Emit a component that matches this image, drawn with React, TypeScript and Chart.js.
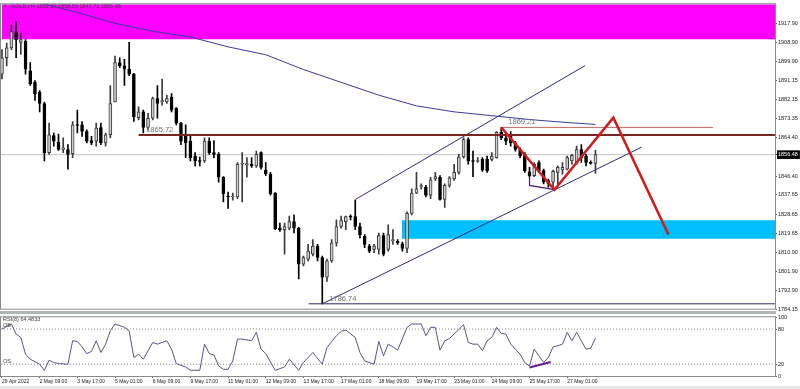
import React, { useEffect, useRef } from 'react';
import { Chart, registerables } from 'chart.js';
Chart.register(...registerables);

const FONT = "'Liberation Sans', Arial, sans-serif";

// ---- data ----
const headerText = 'GOLD,H4 1852.37 1858.56 1847.72 1856.48';
const lastPrice = 1856.48;
const priceTicks = [1917.9, 1908.9, 1899.9, 1891.15, 1882.15, 1873.35, 1864.4, 1856.48, 1846.4, 1837.65, 1828.65, 1819.65, 1810.9, 1801.9, 1792.9, 1784.15];
const rsiTicks = [100, 80, 20, 0];
const xTickIdx = [0, 8, 16, 24, 32, 40, 48, 56, 64, 72, 80, 88, 96, 104, 112, 120];
const xTickLabels = ['29 Apr 2022', '2 May 09:00', '3 May 17:00', '5 May 01:00', '6 May 09:00', '9 May 17:00', '11 May 01:00', '12 May 09:00', '13 May 17:00', '17 May 01:00', '18 May 09:00', '19 May 17:00', '23 May 01:00', '24 May 09:00', '25 May 17:00', '27 May 01:00'];

const opens = [1894.15,1901.8,1906.4,1914.07,1909.0,1909.47,1895.7,1890.3,1885.7,1880.4,1857.4,1865.35,1862.4,1858.9,1858.9,1856.9,1870.4,1870.4,1867.3,1863.1,1862.8,1869.2,1862.0,1865.8,1881.1,1899.5,1898.0,1896.45,1894.15,1873.8,1876.5,1869.2,1873.5,1882.7,1881.1,1881.1,1883.4,1878.1,1871.2,1865.0,1862.8,1855.85,1853.6,1853.6,1862.8,1857.4,1856.6,1845.9,1837.0,1836.7,1836.7,1852.0,1851.7,1852.0,1851.25,1857.4,1849.3,1847.45,1838.5,1822.15,1821.4,1822.15,1825.2,1822.15,1805.3,1807.6,1809.9,1813.7,1808.4,1799.2,1806.8,1815.25,1822.9,1825.2,1827.5,1827.5,1822.9,1818.3,1813.7,1812.2,1812.2,1818.6,1812.2,1816.3,1816.0,1814.8,1812.6,1829.0,1838.5,1841.6,1841.3,1837.5,1845.1,1845.9,1835.5,1842.1,1845.1,1848.2,1855.4,1863.5,1853.6,1853.3,1854.3,1854.3,1854.3,1855.1,1866.9,1864.3,1865.0,1862.0,1858.9,1856.6,1848.5,1846.7,1852.8,1849.0,1844.4,1843.6,1848.2,1849.4,1849.7,1853.6,1852.8,1858.9,1855.85,1852.6,1852.37];
const highs = [1905.6,1908.7,1917.13,1918.66,1913.3,1910.24,1899.5,1891.1,1886.5,1881.1,1871.2,1866.6,1866.1,1864.3,1861.2,1872.0,1877.3,1872.0,1868.1,1865.0,1871.2,1871.2,1866.6,1888.8,1902.6,1901.8,1901.05,1909.0,1894.5,1878.8,1877.3,1875.8,1883.4,1888.8,1891.85,1884.2,1885.0,1878.5,1871.6,1870.4,1865.0,1857.4,1855.4,1864.3,1864.3,1863.1,1857.4,1846.2,1839.0,1838.5,1852.8,1857.4,1855.1,1855.1,1858.15,1857.8,1852.8,1848.2,1838.8,1824.45,1824.45,1827.8,1828.3,1822.5,1809.1,1814.5,1816.8,1814.5,1809.1,1807.6,1816.8,1826.0,1827.8,1827.8,1828.3,1835.2,1824.45,1819.1,1814.5,1814.5,1819.85,1819.85,1823.7,1821.4,1816.8,1815.6,1829.8,1840.5,1848.2,1842.8,1842.1,1845.9,1848.2,1846.7,1842.8,1846.2,1852.0,1856.6,1864.3,1864.3,1858.15,1855.1,1855.1,1855.85,1857.4,1867.3,1869.21,1866.6,1867.3,1862.75,1859.7,1857.4,1850.5,1852.8,1853.6,1849.7,1845.1,1849.3,1851.25,1852.8,1855.85,1856.6,1860.45,1861.2,1856.6,1853.6,1858.56];
const lows = [1891.85,1898.0,1905.6,1901.8,1903.34,1894.15,1888.8,1881.9,1876.5,1853.6,1856.6,1860.45,1858.5,1857.4,1849.7,1855.1,1866.6,1865.0,1862.0,1861.2,1860.45,1861.2,1860.45,1864.3,1881.1,1897.2,1888.8,1893.4,1872.0,1872.7,1866.6,1868.1,1872.7,1873.5,1879.6,1880.4,1876.5,1870.4,1861.2,1855.1,1853.6,1851.25,1851.25,1852.8,1856.6,1855.1,1843.6,1834.4,1831.4,1835.2,1835.9,1834.4,1845.9,1850.5,1850.5,1849.7,1846.7,1837.5,1821.4,1820.6,1809.9,1821.4,1819.85,1798.4,1804.5,1806.8,1809.1,1806.8,1786.74,1797.2,1806.1,1813.7,1822.15,1821.4,1826.0,1821.4,1817.6,1813.0,1810.65,1810.65,1809.9,1809.1,1811.4,1814.5,1814.5,1811.4,1810.65,1828.3,1838.2,1840.5,1836.7,1835.9,1844.4,1835.2,1831.8,1841.3,1844.4,1847.4,1854.8,1852.0,1846.2,1852.8,1848.65,1848.2,1853.6,1854.8,1863.5,1861.2,1860.45,1858.15,1855.1,1848.2,1846.0,1846.2,1848.2,1842.8,1841.3,1840.5,1842.8,1847.4,1849.3,1852.0,1852.0,1852.8,1851.25,1852.0,1847.72];
const closes = [1901.8,1906.4,1914.07,1910.24,1910.24,1896.45,1889.6,1885.0,1880.4,1857.4,1865.8,1862.8,1858.9,1859.7,1856.6,1870.4,1870.1,1867.3,1862.8,1862.0,1868.9,1862.0,1865.8,1880.4,1899.5,1898.0,1896.45,1894.15,1874.3,1876.5,1869.2,1873.5,1882.7,1880.4,1881.8,1882.7,1877.3,1871.2,1862.8,1862.0,1855.1,1853.6,1853.3,1862.8,1857.4,1856.6,1845.9,1838.2,1836.7,1837.0,1852.0,1852.3,1852.3,1851.25,1856.6,1850.5,1847.45,1838.2,1821.7,1821.4,1822.9,1825.2,1822.15,1805.3,1808.4,1811.4,1813.7,1808.4,1799.2,1806.8,1815.25,1822.9,1825.7,1827.5,1827.2,1822.9,1819.1,1814.5,1811.4,1813.7,1818.6,1809.9,1819.1,1816.5,1815.2,1812.6,1829.0,1838.5,1840.5,1841.8,1837.5,1844.7,1846.2,1835.5,1842.1,1845.6,1848.2,1855.4,1863.5,1853.6,1853.3,1853.6,1849.3,1849.0,1855.85,1866.9,1864.3,1862.75,1862.0,1858.9,1855.85,1849.0,1846.7,1852.0,1849.0,1843.6,1842.8,1848.65,1850.5,1850.5,1855.1,1856.2,1858.9,1855.1,1852.8,1852.37,1856.48];

const maIdx = [8, 16, 24, 32, 40, 48, 56, 64, 72, 80, 88, 96, 104, 112, 120, 126];
const maVal = [1927.5, 1922.95, 1917.9, 1914.2, 1911.5, 1906.9, 1903.2, 1896.3, 1890.3, 1884.3, 1879.3, 1876.5, 1874.7, 1872.9, 1871.5, 1870.6];

const rsiIdx = [0,2,3,4,5,6,8,9,10,11,12,14,15,16,17,18,19,20,21,22,23,24,26,27,28,29,30,31,32,33,35,36,37,39,40,42,43,44,45,46,47,48,49,50,51,53,54,55,56,58,60,61,63,64,66,68,69,71,72,73,75,76,77,79,80,81,82,83,84,86,87,89,90,91,92,93,94,95,96,98,99,100,101,102,103,104,105,106,107,108,109,110,111,112,113,114,115,116,117,118,119,120,121,122,123,124,125,126];
const rsiVal = [80,88.6,71.4,65.7,37.1,28.6,20,9.7,26.9,22.9,21.1,20,60,58.9,49.7,38.3,41.7,60,40,54.3,77.1,88.6,82.9,77.1,31.4,37.1,28.6,42.9,57.1,54.3,60,45.7,21.1,15.4,9.7,9.7,54.3,38.3,36,17.1,11.4,11.4,25.7,62.9,62.9,60,74.3,45.7,38.3,9.7,15.4,28.6,9.7,22.9,40,20,48.6,68.6,76,78.3,65.7,40,25.7,20,58.9,34.3,54.3,49.7,44,82.9,88.6,88.6,68.6,82.9,82.9,44,60,64,71.4,87.4,57.1,54.3,54.3,42.9,60,65.7,82.9,72.6,71.4,54.3,45.7,37.1,22.9,17.1,45.7,34.3,22.9,31.4,49.7,51.4,54.3,74.3,60,74.3,60,45.7,47.4,64.48];
const rsiLabel = 'RSI(8) 64.4833';

// zones (bar index range, price range)
const supplyZoneX = [0, 170];
const supplyZoneY = [1930, 1910.5];
const demandZoneX = [84.9, 170];
const demandZoneY = [1825.8, 1817.2];

// levels
const levelHighIdx = [29, 170];
const levelHigh = 1865.72;
const levelTopIdx = [106, 151];
const levelTop = 1869.21;
const levelLowIdx = [65.1, 170];
const levelLow = 1786.74;
const levelLabels = ['1865.72', '1869.21', '1786.74'];
const levelLabelIdx = [30.6, 107.5, 69.5];
const levelLabelPrice = [1865.72, 1869.21, 1786.74];

// channel
const chanUpperIdx = [75, 123.8];
const chanUpperVal = [1835.5, 1898.1];
const chanLowerIdx = [68, 135.8];
const chanLowerVal = [1786.74, 1860.0];

// projected zigzag
const zigIdx = [106, 117.3, 129.8, 141.5];
const zigVal = [1869.21, 1840.1, 1873.8, 1819.1];

// divergence lines
const divPriceIdx = [112, 112, 117.3];
const divPriceVal = [1846.0, 1842.1, 1840.1];
const divRsiIdx = [112, 116.5];
const divRsiVal = [14.5, 24];

// view window
const X_MIN = -0.21;
const X_MAX = 164.12;
const Y_MIN = 1784.45;
const Y_MAX = 1926.79;

const pts = (xs: number[], ys: number[]) => xs.map((x, i) => ({ x, y: ys[i] }));
const lineDs = (data: any[], color: string, width: number, order = 1, extra: any = {}) => ({
  type: 'line', data, borderColor: color, borderWidth: width, pointRadius: 0, fill: false, tension: 0, order, ...extra,
});

const framePlugin = {
  id: 'frame',
  afterDraw(chart: any) {
    const { ctx, chartArea: a } = chart;
    ctx.save();
    ctx.strokeStyle = '#8a8a8a';
    ctx.lineWidth = 1;
    ctx.strokeRect(a.left - 0.5, a.top - 0.5, a.right - a.left + 1, a.bottom - a.top + 1);
    ctx.restore();
  },
};

const mainTextPlugin = {
  id: 'mainText',
  afterDatasetsDraw(chart: any) {
    const { ctx, scales } = chart;
    ctx.save();
    ctx.fillStyle = '#404040';
    ctx.font = `4px ${FONT}`;
    ctx.textBaseline = 'middle';
    ctx.fillText('▼', 3, 6);
    ctx.font = `5.5px ${FONT}`;
    ctx.fillText(headerText, 11, 6);
    ctx.fillStyle = '#707070';
    ctx.font = `7.5px ${FONT}`;
    ctx.textBaseline = 'alphabetic';
    levelLabels.forEach((t, i) => {
      const x = scales.x.getPixelForValue(levelLabelIdx[i]);
      const y = scales.y.getPixelForValue(levelLabelPrice[i]) - 3;
      ctx.fillText(t, x, y);
    });
    ctx.restore();
  },
};

const rsiTextPlugin = {
  id: 'rsiText',
  afterDatasetsDraw(chart: any) {
    const { ctx, scales } = chart;
    ctx.save();
    ctx.fillStyle = '#404040';
    ctx.font = `5.5px ${FONT}`;
    ctx.textBaseline = 'middle';
    ctx.fillText(rsiLabel, 3, 6.5);
    ctx.textBaseline = 'alphabetic';
    ctx.fillText('OB', 3, scales.y.getPixelForValue(80) - 2);
    ctx.fillText('OS', 3, scales.y.getPixelForValue(20) - 1);
    ctx.restore();
  },
};

function mainConfig(): any {
  const isBull = (i: number) => closes[i] >= opens[i];
  const wicks = {
    type: 'bar',
    data: lows.map((l, i) => ({ x: i, y: [l, highs[i]] })),
    backgroundColor: opens.map((_, i) => (isBull(i) ? '#3a3a3a' : '#000000')),
    borderWidth: 0,
    barThickness: 1,
    grouped: false,
    order: 4,
  };
  const bodies = {
    type: 'bar',
    data: opens.map((o, i) => ({ x: i, y: [o, closes[i]] })),
    backgroundColor: opens.map((_, i) => (isBull(i) ? '#cfcfcf' : '#000000')),
    borderColor: opens.map((_, i) => (isBull(i) ? '#3c3c3c' : '#000000')),
    borderWidth: 1,
    borderSkipped: false,
    barThickness: 3,
    minBarLength: 1,
    grouped: false,
    order: 3,
  };
  const datasets = [
    lineDs(pts(supplyZoneX, [supplyZoneY[0], supplyZoneY[0]]), 'rgba(0,0,0,0)', 0, 10, { fill: { value: supplyZoneY[1] }, backgroundColor: '#ff00ff' }),
    lineDs(pts(demandZoneX, [demandZoneY[0], demandZoneY[0]]), 'rgba(0,0,0,0)', 0, 10, { fill: { value: demandZoneY[1] }, backgroundColor: '#00bfff' }),
    lineDs(pts([X_MIN, 170], [lastPrice, lastPrice]), '#c4c4c4', 1, 9),
    wicks,
    bodies,
    lineDs(pts(levelHighIdx, [levelHigh, levelHigh]), '#7a2424', 2, 2),
    lineDs(pts(levelTopIdx, [levelTop, levelTop]), '#c46a6a', 1, 2),
    lineDs(pts(levelLowIdx, [levelLow, levelLow]), '#303070', 1, 2),
    lineDs(pts(maIdx, maVal), '#3a3aa0', 1, 2),
    lineDs(pts(chanUpperIdx, chanUpperVal), '#2c2c80', 1, 2),
    lineDs(pts(chanLowerIdx, chanLowerVal), '#2c2c80', 1, 2),
    lineDs(pts(divPriceIdx, divPriceVal), '#4a1a7a', 1.2, 1),
    lineDs(pts(zigIdx, zigVal), '#d01c1c', 2.5, 0, { borderJoinStyle: 'miter' }),
  ];
  return {
    type: 'bar',
    data: { datasets },
    plugins: [framePlugin, mainTextPlugin],
    options: {
      responsive: false,
      animation: false,
      events: [],
      layout: { padding: { left: 1, top: 1, right: 0, bottom: 2 } },
      plugins: { legend: { display: false }, tooltip: { enabled: false } },
      scales: {
        x: { type: 'linear', min: X_MIN, max: X_MAX, offset: false, display: false },
        y: {
          type: 'linear', position: 'right', min: Y_MIN, max: Y_MAX, beginAtZero: false,
          afterBuildTicks: (s: any) => { s.ticks = priceTicks.map((v) => ({ value: v })); },
          afterFit: (s: any) => { s.width = 25; },
          grid: { drawOnChartArea: false, drawTicks: true, tickLength: 2, color: '#606060' },
          border: { display: true, color: '#7f7f7f' },
          ticks: {
            autoSkip: false, padding: 1,
            font: { family: FONT, size: 5.5 },
            color: (c: any) => (c.tick && c.tick.value === lastPrice ? '#ffffff' : '#1a1a1a'),
            showLabelBackdrop: (c: any) => !!(c.tick && c.tick.value === lastPrice),
            backdropColor: '#000000',
            backdropPadding: { top: 1, bottom: 1, left: 1, right: 2 },
            callback: (v: any) => Number(v).toFixed(2),
          },
        },
      },
    },
  };
}

function rsiConfig(): any {
  const datasets = [
    lineDs(pts([X_MIN, 170], [80, 80]), '#8c8c8c', 1, 5, { borderDash: [1, 2] }),
    lineDs(pts([X_MIN, 170], [20, 20]), '#8c8c8c', 1, 5, { borderDash: [1, 2] }),
    lineDs(pts(rsiIdx, rsiVal), '#56568f', 1, 2),
    lineDs(pts(divRsiIdx, divRsiVal), '#6a1b9a', 2, 1),
  ];
  return {
    type: 'line',
    data: { datasets },
    plugins: [framePlugin, rsiTextPlugin],
    options: {
      responsive: false,
      animation: false,
      events: [],
      layout: { padding: { left: 1, top: 4, right: 0, bottom: 0 } },
      plugins: { legend: { display: false }, tooltip: { enabled: false } },
      scales: {
        x: {
          type: 'linear', min: X_MIN, max: X_MAX, offset: false,
          afterBuildTicks: (s: any) => { s.ticks = xTickIdx.map((v) => ({ value: v })); },
          afterFit: (s: any) => { s.height = 13; },
          grid: { drawOnChartArea: false, drawTicks: true, tickLength: 2, color: '#606060' },
          border: { display: true, color: '#7f7f7f' },
          ticks: {
            autoSkip: false, maxRotation: 0, minRotation: 0, align: 'start', padding: 1,
            font: { family: FONT, size: 5 }, color: '#1a1a1a',
            callback: (_v: any, i: number) => xTickLabels[i],
          },
        },
        y: {
          type: 'linear', position: 'right', min: 0, max: 100,
          afterBuildTicks: (s: any) => { s.ticks = rsiTicks.map((v) => ({ value: v })); },
          afterFit: (s: any) => { s.width = 25; },
          grid: { drawOnChartArea: false, drawTicks: true, tickLength: 2, color: '#606060' },
          border: { display: true, color: '#7f7f7f' },
          ticks: { autoSkip: false, padding: 1, font: { family: FONT, size: 5.5 }, color: '#1a1a1a' },
        },
      },
    },
  };
}

export default function App() {
  const mainRef = useRef<HTMLCanvasElement>(null);
  const rsiRef = useRef<HTMLCanvasElement>(null);
  useEffect(() => {
    document.body.style.margin = '0';
    const c1 = new Chart(mainRef.current as HTMLCanvasElement, mainConfig());
    const c2 = new Chart(rsiRef.current as HTMLCanvasElement, rsiConfig());
    return () => { c1.destroy(); c2.destroy(); };
  }, []);
  return (
    <div style={{ position: 'relative', width: 800, height: 389, background: '#ffffff', overflow: 'hidden' }}>
      <canvas ref={mainRef} width={800} height={313} style={{ position: 'absolute', left: 0, top: 0 }} />
      <canvas ref={rsiRef} width={800} height={76} style={{ position: 'absolute', left: 0, top: 313 }} />
      <div style={{ position: 'absolute', left: 0, top: 311, width: 776, height: 3, background: '#b0b6b6' }} />
      <div style={{ position: 'absolute', left: 0, top: 386, width: 800, height: 3, background: '#e6e6e6' }} />
    </div>
  );
}
